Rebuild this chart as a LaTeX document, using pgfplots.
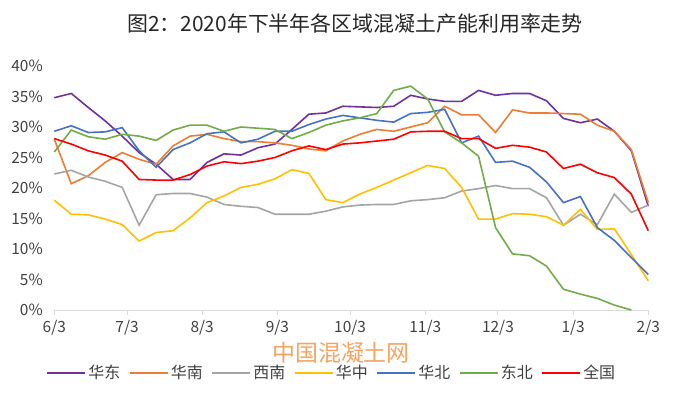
\documentclass[border=0pt]{standalone}
\usepackage{fontspec}
\setmainfont{Noto Sans CJK SC}
\usepackage{pgfplots}
\pgfplotsset{compat=1.18}
\definecolor{cEast}{HTML}{7030A0}
\definecolor{cSouth}{HTML}{ED7D31}
\definecolor{cSW}{HTML}{A5A5A5}
\definecolor{cCen}{HTML}{FFC000}
\definecolor{cNorth}{HTML}{4472C4}
\definecolor{cNE}{HTML}{70AD47}
\definecolor{cAll}{HTML}{FF0000}
\definecolor{txt}{HTML}{404040}
\definecolor{axgray}{HTML}{D9D9D9}
\definecolor{wm}{HTML}{F4A460}
\begin{document}
\begin{tikzpicture}
\useasboundingbox (0,0) rectangle (678bp,396bp);
\node[font=\fontsize{21}{24}\selectfont, text=black!85] at (355bp,372bp) {图2：2020年下半年各区域混凝土产能利用率走势};
\begin{axis}[
  at={(54.3bp,86bp)}, anchor=south west,
  scale only axis, width=594bp, height=244bp,
  xmin=0, xmax=245, ymin=0, ymax=40,
  axis x line=bottom, axis y line=left,
  x axis line style={draw=axgray, line width=1pt, -},
  y axis line style={draw=none},
  xtick={0,30,61,92,122,153,183,214,245},
  xticklabels={6/3,7/3,8/3,9/3,10/3,11/3,12/3,1/3,2/3},
  ytick={0,5,...,40},
  yticklabel={\pgfmathprintnumber{\tick}\%},
  /pgf/number format/assume math mode=true,
  tick align=outside,
  major tick length=5bp,
  xtick style={draw=axgray, line width=1pt},
  ytick style={draw=none},
  ticklabel style={font=\fontsize{15.5}{18}\selectfont, text=txt},
  yticklabel style={xshift=-3bp},
  xticklabel style={yshift=-2bp},
  clip=false,
  every axis plot/.append style={line width=1.6bp, mark=none},
  legend columns=7,
  legend style={at={(0.4675,-0.258)}, anchor=center, draw=none, fill=none,
    font=\fontsize{16}{18}\selectfont, text=txt,
    /tikz/every even column/.append style={column sep=6bp},
    nodes={inner xsep=2.5bp}},
  legend image code/.code={\draw[#1] (0bp,0bp) -- (38bp,0bp);},
]
\addplot[cEast] coordinates {(0,34.8)(7,35.5)(14,33.2)(21,31.0)(28,28.5)(35,25.8)(42,23.9)(49,21.4)(56,21.4)(63,24.2)(70,25.6)(77,25.4)(84,26.6)(91,27.2)(98,29.6)(105,32.1)(112,32.3)(119,33.4)(126,33.3)(133,33.2)(140,33.4)(147,35.2)(154,34.6)(161,34.2)(168,34.2)(175,36.0)(182,35.2)(189,35.5)(196,35.5)(203,34.3)(210,31.4)(217,30.7)(224,31.3)(231,29.3)(238,26.1)(245,17.0)};
\addlegendentry{华东}
\addplot[cSouth] coordinates {(0,28.0)(7,20.7)(14,22.0)(21,24.2)(28,25.8)(35,24.7)(42,23.9)(49,26.9)(56,28.5)(63,28.8)(70,28.1)(77,27.6)(84,27.6)(91,27.4)(98,27.0)(105,26.4)(112,26.1)(119,27.7)(126,28.8)(133,29.6)(140,29.3)(147,30.0)(154,30.7)(161,33.4)(168,32.0)(175,32.0)(182,29.1)(189,32.8)(196,32.3)(203,32.3)(210,32.2)(217,32.1)(224,30.3)(231,29.3)(238,26.3)(245,17.6)};
\addlegendentry{华南}
\addplot[cSW] coordinates {(0,22.3)(7,22.9)(14,21.8)(21,21.1)(28,20.1)(35,13.9)(42,18.9)(49,19.1)(56,19.1)(63,18.5)(70,17.3)(77,17.0)(84,16.8)(91,15.7)(98,15.7)(105,15.7)(112,16.2)(119,16.9)(126,17.2)(133,17.3)(140,17.3)(147,17.9)(154,18.1)(161,18.4)(168,19.5)(175,19.9)(182,20.4)(189,19.9)(196,19.9)(203,18.4)(210,13.9)(217,15.7)(224,14.0)(231,19.0)(238,16.0)(245,17.2)};
\addlegendentry{西南}
\addplot[cCen] coordinates {(0,18.0)(7,15.7)(14,15.6)(21,14.9)(28,14.0)(35,11.3)(42,12.7)(49,13.0)(56,15.1)(63,17.6)(70,18.7)(77,20.1)(84,20.6)(91,21.5)(98,23.0)(105,22.4)(112,18.1)(119,17.6)(126,19.0)(133,20.1)(140,21.3)(147,22.5)(154,23.7)(161,23.2)(168,20.1)(175,14.9)(182,14.9)(189,15.8)(196,15.7)(203,15.3)(210,13.9)(217,16.5)(224,13.2)(231,13.3)(238,9.1)(245,4.8)};
\addlegendentry{华中}
\addplot[cNorth] coordinates {(0,29.3)(7,30.2)(14,29.1)(21,29.2)(28,29.9)(35,26.1)(42,23.4)(49,26.3)(56,27.4)(63,28.9)(70,29.2)(77,27.4)(84,28.0)(91,29.3)(98,29.3)(105,30.4)(112,31.3)(119,31.9)(126,31.5)(133,31.1)(140,30.8)(147,32.2)(154,32.4)(161,32.9)(168,27.4)(175,28.5)(182,24.2)(189,24.4)(196,23.4)(203,21.0)(210,17.6)(217,18.6)(224,13.5)(231,11.4)(238,8.6)(245,5.8)};
\addlegendentry{华北}
\addplot[cNE] coordinates {(0,25.9)(7,29.5)(14,28.4)(21,28.0)(28,28.8)(35,28.5)(42,27.8)(49,29.5)(56,30.3)(63,30.3)(70,29.3)(77,30.0)(84,29.8)(91,29.6)(98,28.1)(105,29.1)(112,30.3)(119,31.0)(126,31.5)(133,32.2)(140,36.0)(147,36.7)(154,34.6)(161,29.2)(168,27.4)(175,25.2)(182,13.5)(189,9.2)(196,8.9)(203,7.2)(210,3.4)(217,2.6)(224,1.9)(231,0.8)(238,0.0)};
\addlegendentry{东北}
\addplot[cAll] coordinates {(0,28.1)(7,27.2)(14,26.1)(21,25.4)(28,24.4)(35,21.4)(42,21.3)(49,21.3)(56,22.2)(63,23.6)(70,24.3)(77,24.0)(84,24.4)(91,25.0)(98,26.1)(105,26.9)(112,26.3)(119,27.2)(126,27.4)(133,27.7)(140,28.0)(147,29.2)(154,29.3)(161,29.3)(168,28.1)(175,28.1)(182,26.5)(189,27.0)(196,26.7)(203,25.9)(210,23.2)(217,23.9)(224,22.5)(231,21.7)(238,19.0)(245,13.0)};
\addlegendentry{全国}
\end{axis}
\node[font=\fontsize{23}{26}\selectfont, text=wm] at (341bp,43bp) {中国混凝土网};
\end{tikzpicture}
\end{document}
